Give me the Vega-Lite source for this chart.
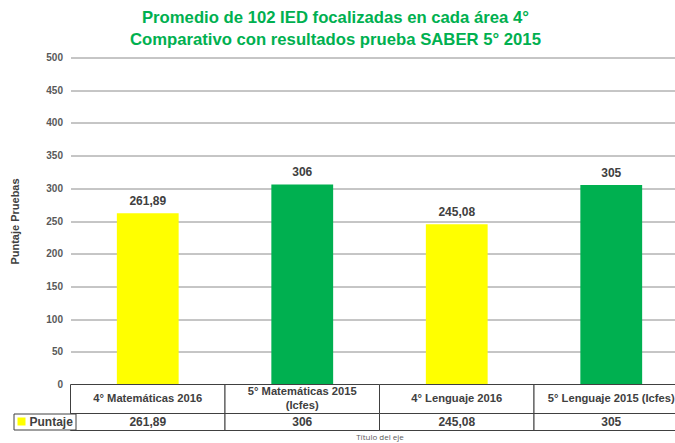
{
  "$schema": "https://vega.github.io/schema/vega-lite/v6.json",
  "padding": {"left": 9.5, "top": 9.5, "right": 0, "bottom": 0},
  "background": "white",
  "bounds": "flush",
  "title": {
    "text": ["Promedio de 102 IED focalizadas en cada área 4°", "Comparativo con resultados prueba SABER 5° 2015"],
    "color": "#00B050",
    "fontSize": 16.7,
    "font": "Liberation Sans",
    "fontWeight": "bold",
    "anchor": "middle",
    "lineHeight": 22,
    "offset": 3.5,
    "dx": -14
  },
  "config": {
    "view": {"stroke": null},
    "font": "Liberation Sans"
  },
  "data": {
    "values": [
      {"cat": "4° Matemáticas 2016", "head": "4° Matemáticas 2016", "lines": 1, "value": 261.89, "txt": "261,89", "grupo": "4°"},
      {"cat": "5° Matemáticas 2015 (Icfes)", "head": "5° Matemáticas 2015\n(Icfes)", "lines": 2, "value": 306, "txt": "306", "grupo": "5°"},
      {"cat": "4° Lenguaje 2016", "head": "4° Lenguaje 2016", "lines": 1, "value": 245.08, "txt": "245,08", "grupo": "4°"},
      {"cat": "5° Lenguaje 2015 (Icfes)", "head": "5° Lenguaje 2015 (Icfes)", "lines": 1, "value": 305, "txt": "305", "grupo": "5°"}
    ]
  },
  "spacing": 0,
  "resolve": {"scale": {"color": "independent", "x": "independent"}, "legend": {"color": "independent"}},
  "vconcat": [
    {
      "width": 618,
      "height": 327,
      "encoding": {
        "x": {"field": "cat", "type": "nominal", "sort": null, "axis": null, "scale": {"paddingInner": 0.6, "paddingOuter": 0.3}},
        "y": {
          "field": "value", "type": "quantitative",
          "scale": {"domain": [0, 500]},
          "axis": {
            "values": [0, 50, 100, 150, 200, 250, 300, 350, 400, 450, 500],
            "title": "Puntaje Pruebas",
            "titleFontSize": 11, "titleFontWeight": "bold", "titleColor": "#404040", "titlePadding": 25,
            "labelFontSize": 10, "labelFontWeight": "bold", "labelColor": "#595959", "labelPadding": 8,
            "ticks": false, "domain": false,
            "grid": true, "gridColor": "#8c8c8c", "gridWidth": 1
          }
        }
      },
      "layer": [
        {
          "mark": {"type": "bar"},
          "encoding": {
            "color": {"field": "grupo", "type": "nominal", "scale": {"domain": ["4°", "5°"], "range": ["#FFFF00", "#00B050"]}, "legend": null}
          }
        },
        {
          "mark": {"type": "text", "baseline": "bottom", "dy": -5, "fontSize": 12, "fontWeight": "bold", "color": "#404040"},
          "encoding": {"text": {"field": "txt"}}
        }
      ]
    },
    {
      "width": 618,
      "height": 29,
      "encoding": {
        "x": {"field": "cat", "type": "nominal", "sort": null, "axis": null, "scale": {"paddingInner": 0, "paddingOuter": 0}}
      },
      "layer": [
        {"mark": {"type": "rect", "fill": "white", "stroke": "#404040", "strokeWidth": 1}},
        {
          "transform": [{"filter": "datum.lines == 1"}],
          "mark": {"type": "text", "fontSize": 11.2, "fontWeight": "bold", "color": "#404040", "baseline": "middle"},
          "encoding": {"text": {"field": "head"}}
        },
        {
          "transform": [{"filter": "datum.lines == 2"}],
          "mark": {"type": "text", "fontSize": 11.2, "fontWeight": "bold", "color": "#404040", "lineBreak": "\n", "lineHeight": 14, "baseline": "middle", "dy": -7},
          "encoding": {"text": {"field": "head"}}
        }
      ]
    },
    {
      "width": 618,
      "height": 17,
      "encoding": {
        "x": {
          "field": "cat", "type": "nominal", "sort": null,
          "scale": {"paddingInner": 0, "paddingOuter": 0},
          "axis": {"title": "Título del eje", "labels": false, "ticks": false, "domain": false, "titleFontSize": 8, "titleFontWeight": "normal", "titleColor": "#595959", "titlePadding": 3, "titleFont": "Open Sans"}
        }
      },
      "layer": [
        {"mark": {"type": "rect", "fill": "white", "stroke": "#404040", "strokeWidth": 1}},
        {
          "mark": {"type": "text", "fontSize": 12, "fontWeight": "bold", "color": "#404040", "baseline": "middle"},
          "encoding": {"text": {"field": "txt"}}
        },
        {
          "mark": {"type": "point", "shape": "square", "filled": true, "opacity": 0},
          "encoding": {
            "color": {
              "datum": "Puntaje",
              "scale": {"domain": ["Puntaje"], "range": ["#FFFF00"]},
              "legend": {
                "title": null, "orient": "none", "legendX": -57, "legendY": 0,
                "strokeColor": "#404040", "padding": 2, "fillColor": "white",
                "symbolType": "square", "symbolSize": 64, "symbolOpacity": 1, "symbolStrokeWidth": 0,
                "labelFontSize": 12, "labelFontWeight": "bold", "labelColor": "#404040", "labelOffset": 2
              }
            }
          }
        }
      ]
    }
  ]
}
